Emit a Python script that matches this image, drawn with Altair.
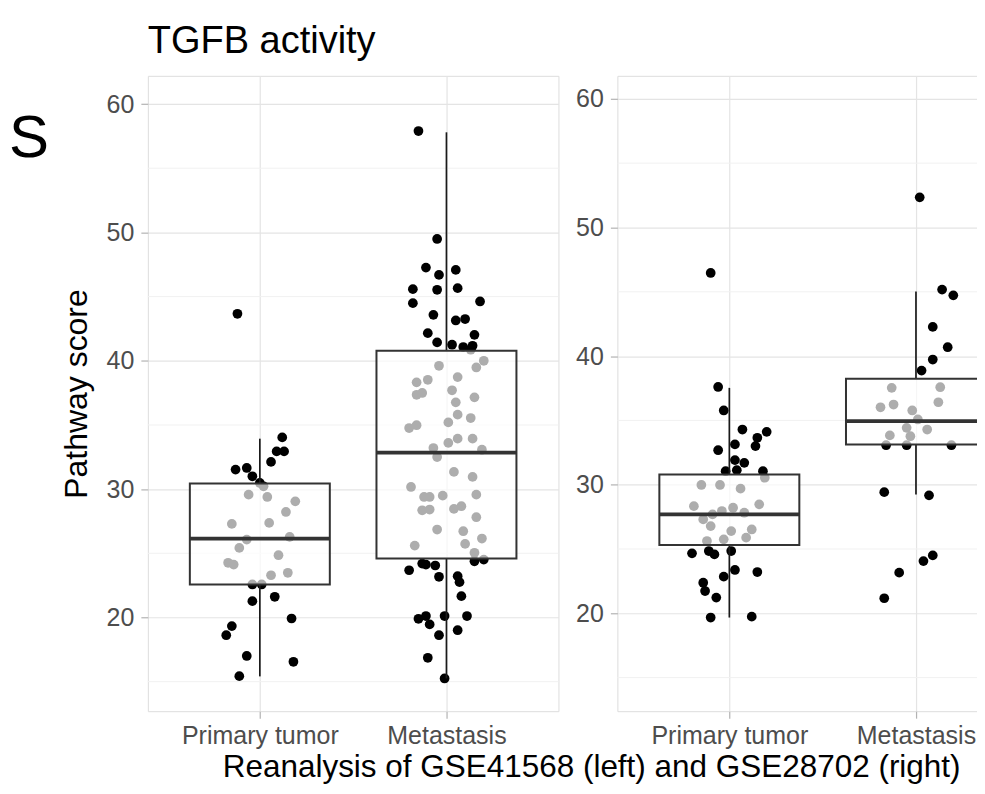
import altair as alt
import pandas as pd

FONT = "Liberation Sans"

categories = ["Primary tumor", "Metastasis"]
title_text = "TGFB activity"
y_title = "Pathway score"
caption = "Reanalysis of GSE41568 (left) and GSE28702 (right)"
side_letter = "S"
y_ticks = [20, 30, 40, 50, 60]
y_minor = [15, 25, 35, 45, 55]
left_y_domain = [12.7, 62.2]
right_y_domain = [12.39, 61.79]

# ---- GSE41568 (left panel) ----
left_prim_val = [43.66, 34.03, 32.94, 32.94, 32.12, 31.52, 31.65, 31.00, 30.48, 29.57, 30.22, 29.39,
                 29.05, 28.22, 27.29, 27.37, 26.07, 26.28, 25.42, 24.85, 24.26, 24.12, 23.29, 23.48,
                 22.57, 22.57, 21.61, 21.27, 19.92, 19.33, 18.62, 17.00, 16.55, 15.43]
left_prim_jit = [-0.12, 0.12, 0.13, 0.09, 0.06, -0.13, -0.07, -0.04, 0.00, -0.06, 0.02, 0.04,
                 0.19, 0.14, -0.15, 0.05, -0.07, 0.16, -0.11, 0.10, -0.17, -0.14, 0.06, 0.15,
                 -0.04, 0.01, 0.08, -0.04, 0.17, -0.15, -0.18, -0.07, 0.18, -0.11]
left_met_val = [57.90, 49.49, 47.26, 46.69, 47.08, 45.58, 45.53, 45.66, 44.49, 44.62, 43.58, 43.14,
                43.25, 42.15, 42.02, 41.43, 41.25, 41.17, 41.07, 40.86,
                39.61, 40.00, 39.48, 38.73, 38.32, 38.52, 37.35, 37.49, 37.70, 37.15, 36.76, 35.80,
                35.54, 35.20, 34.76, 34.98, 33.60, 33.93, 33.93, 33.20, 33.07, 32.50,
                31.34, 30.95, 30.17, 29.39, 29.39, 29.49, 29.57, 28.35, 28.41, 28.46, 28.67, 27.81,
                26.85, 26.72, 26.15, 25.60, 25.73, 25.04,
                24.12, 24.05, 24.20, 24.38, 24.51, 23.68, 23.17, 23.22, 22.75, 21.66, 19.90, 20.11,
                20.11, 20.11, 19.46, 19.01, 18.62, 16.86, 15.25]
left_met_jit = [-0.15, -0.05, -0.11, -0.04, 0.05, -0.18, -0.05, 0.06, -0.18, 0.18, -0.07, 0.05,
                0.10, -0.10, 0.15, -0.05, 0.03, 0.14, 0.09, 0.13,
                -0.04, 0.20, 0.16, 0.06, -0.16, -0.10, -0.16, -0.13, 0.03, 0.15, 0.05, 0.06,
                0.13, 0.01, -0.20, -0.16, 0.01, 0.06, 0.14, -0.07, 0.19, -0.05,
                0.04, 0.14, -0.19, -0.12, -0.09, -0.02, 0.16, -0.13, -0.09, 0.04, 0.08, 0.16,
                -0.05, 0.09, 0.19, -0.17, 0.10, 0.15,
                -0.11, -0.06, -0.13, 0.15, 0.20, -0.20, -0.04, 0.06, 0.07, 0.08, -0.15, -0.11,
                -0.01, 0.11, -0.09, 0.06, -0.04, -0.10, -0.01]
left_q1 = [22.57, 24.60]
left_med = [26.15, 32.84]
left_q3 = [30.43, 40.78]
left_lo = [15.41, 15.25]
left_hi = [33.93, 57.80]

# ---- GSE28702 (right panel) ----
right_prim_val = [46.46, 37.60, 35.77, 34.29, 34.11, 33.65, 33.00, 33.13, 32.68, 31.91, 31.70, 31.05,
                  31.13, 31.05,
                  29.98, 29.98, 29.69, 30.54, 28.33, 27.95, 28.21, 27.82, 28.47, 27.30, 26.78, 26.39,
                  26.52, 25.88, 25.62, 25.75, 27.69,
                  24.66, 24.84, 24.58, 24.84, 23.37, 23.21, 22.85, 22.38, 21.73, 21.22, 19.67, 19.74]
right_prim_jit = [-0.10, -0.06, -0.03, 0.07, 0.20, 0.15, 0.14, 0.03, -0.06, 0.03, 0.08, -0.02,
                  0.04, 0.18,
                  -0.15, -0.05, 0.06, 0.19, -0.19, -0.04, 0.02, 0.08, 0.16, -0.14, -0.10, 0.01,
                  0.12, 0.09, -0.12, -0.03, -0.09,
                  -0.20, -0.11, -0.08, 0.01, 0.03, 0.15, -0.03, -0.14, -0.13, -0.07, -0.10, 0.12]
right_met_val = [52.34, 45.17, 44.72, 42.27, 40.69, 39.73, 38.87,
                 37.53, 37.58, 36.02, 36.23, 36.41, 35.77, 35.07, 34.42, 34.29, 33.83, 33.77,
                 33.07, 33.07, 33.07, 29.42, 29.17, 24.50, 24.06, 23.16, 21.17]
right_met_jit = [0.02, 0.14, 0.20, 0.09, 0.17, 0.09, 0.03,
                 -0.13, 0.13, -0.19, -0.12, 0.12, -0.02, 0.01, -0.05, 0.06, -0.14, -0.03,
                 -0.16, -0.05, 0.19, -0.17, 0.07, 0.09, 0.04, -0.09, -0.17]
right_q1 = [25.31, 33.13]
right_med = [27.69, 34.94]
right_q3 = [30.80, 38.23]
right_lo = [19.67, 29.24]
right_hi = [37.53, 45.03]

label_expr = "datum.value == 1 ? '%s' : '%s'" % (categories[0], categories[1])


def build_panel(pv, pj, mv, mj, q1, med, q3, lo, hi, ydomain, ytitle, title_obj, with_letter):
    pts = pd.DataFrame({
        "grp": [1] * len(pv) + [2] * len(mv),
        "jit": pj + mj,
        "value": pv + mv,
    })
    box = pd.DataFrame({"grp": [1, 2], "q1": q1, "med": med, "q3": q3, "lo": lo, "hi": hi})
    minor = pd.DataFrame({"m": y_minor})

    xscale = alt.Scale(domain=[0.4, 2.6], nice=False, zero=False)
    yscale = alt.Scale(domain=ydomain, nice=False, zero=False)
    xaxis = alt.Axis(values=[1, 2], labelExpr=label_expr, title=None, grid=True,
                     gridColor="#e4e4e4", gridWidth=1.2, domain=False, tickColor="#b3b3b3",
                     tickSize=7, tickWidth=1.2, labelFontSize=25, labelColor="#4d4d4d",
                     labelPadding=5, labelFont=FONT)
    yaxis_kw = dict(values=y_ticks, grid=True, gridColor="#e4e4e4", gridWidth=1.2,
                    domain=False, tickColor="#b3b3b3", tickSize=7, tickWidth=1.2,
                    labelFontSize=25, labelColor="#4d4d4d", labelPadding=7, labelFont=FONT)
    if ytitle:
        yaxis = alt.Axis(title=ytitle, titleFontSize=32, titleFont=FONT, titleColor="black",
                         titleFontWeight="normal", titlePadding=13, **yaxis_kw)
    else:
        yaxis = alt.Axis(title=None, **yaxis_kw)

    minor_layer = alt.Chart(minor).mark_rule(color="#f1f1f1", strokeWidth=1).encode(
        y=alt.Y("m:Q", scale=yscale, axis=yaxis))
    points = alt.Chart(pts).transform_calculate(xpos="datum.grp + datum.jit").mark_circle(
        size=95, color="black", opacity=1).encode(
        x=alt.X("xpos:Q", scale=xscale, axis=xaxis),
        y=alt.Y("value:Q", scale=yscale, axis=yaxis))
    whisk_up = alt.Chart(box).mark_rule(color="#1a1a1a", strokeWidth=1.7).encode(
        x=alt.X("grp:Q", scale=xscale, axis=xaxis),
        y=alt.Y("q3:Q", scale=yscale, axis=yaxis), y2="hi:Q")
    whisk_dn = alt.Chart(box).mark_rule(color="#1a1a1a", strokeWidth=1.7).encode(
        x=alt.X("grp:Q", scale=xscale, axis=xaxis),
        y=alt.Y("lo:Q", scale=yscale, axis=yaxis), y2="q1:Q")
    rect = alt.Chart(box).transform_calculate(
        x1="datum.grp - 0.375", x2="datum.grp + 0.375").mark_rect(
        fill="white", fillOpacity=0.68, stroke="#333333", strokeWidth=2).encode(
        x=alt.X("x1:Q", scale=xscale, axis=xaxis), x2="x2:Q",
        y=alt.Y("q1:Q", scale=yscale, axis=yaxis), y2="q3:Q")
    median = alt.Chart(box).transform_calculate(
        x1="datum.grp - 0.375", x2="datum.grp + 0.375").mark_rule(
        color="#333333", strokeWidth=3.8).encode(
        x=alt.X("x1:Q", scale=xscale, axis=xaxis), x2="x2:Q",
        y=alt.Y("med:Q", scale=yscale, axis=yaxis))
    layers = [minor_layer, points, whisk_up, whisk_dn, rect, median]
    if with_letter:
        letter = alt.Chart(pd.DataFrame({"t": [side_letter]})).mark_text(
            align="left", baseline="alphabetic", fontSize=60, font=FONT, color="black").encode(
            x=alt.value(-139), y=alt.value(81), text="t:N")
        layers.append(letter)
    return alt.layer(*layers).properties(width=411, height=636, title=title_obj)


left = build_panel(left_prim_val, left_prim_jit, left_met_val, left_met_jit,
                   left_q1, left_med, left_q3, left_lo, left_hi, left_y_domain, y_title,
                   alt.Title(title_text, anchor="start", frame="group", fontSize=38, font=FONT,
                             color="black", fontWeight="normal", offset=15),
                   True)
right = build_panel(right_prim_val, right_prim_jit, right_met_val, right_met_jit,
                    right_q1, right_med, right_q3, right_lo, right_hi, right_y_domain, None,
                    alt.Title(" ", anchor="start", frame="group", fontSize=38, font=FONT,
                              color="black", fontWeight="normal", offset=15),
                    False)

chart = alt.hconcat(left, right, spacing=15, bounds="full").properties(
    title=alt.Title(caption, orient="bottom", anchor="middle", fontSize=31.5, font=FONT,
                    color="black", fontWeight="normal", offset=3, dx=73),
    padding={"left": 0, "right": -52, "top": 13.5, "bottom": 0},
    background="white",
).configure_view(stroke="#b3b3b3", strokeWidth=1.2).configure(font=FONT)

chart.save("out.html", embed_options={"renderer": "svg", "actions": False})
